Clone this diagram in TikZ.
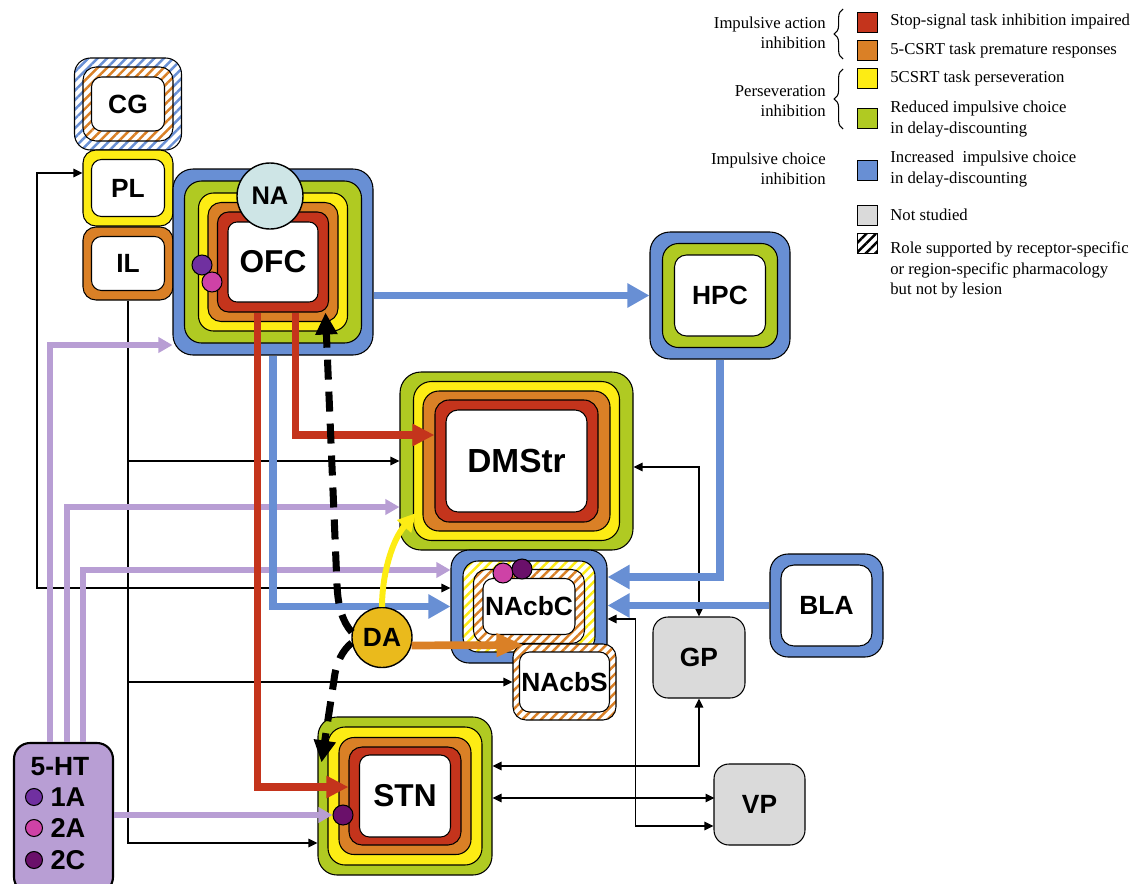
\documentclass[tikz,border=0pt]{standalone}
\usepackage{fontspec}
\setmainfont{Liberation Serif}
\setsansfont{Liberation Sans}
\usepackage{tikz}
\usetikzlibrary{positioning, shapes, arrows.meta, patterns.meta, decorations.pathreplacing, calc}
\definecolor{RingBlue}{RGB}{104, 143, 212}
\definecolor{RingGreen}{RGB}{176, 202, 34}
\definecolor{RingYellow}{RGB}{253, 236, 20}
\definecolor{RingOrange}{RGB}{218, 128, 38}
\definecolor{RingRed}{RGB}{196, 52, 28}
\definecolor{HTLilac}{RGB}{184, 158, 212}
\definecolor{NoStudy}{RGB}{218, 218, 218}
\definecolor{DAGold}{RGB}{234, 186, 28}
\definecolor{NAPale}{RGB}{206, 229, 230}
\definecolor{RecA}{RGB}{112, 48, 160}
\definecolor{RecB}{RGB}{206, 66, 166}
\definecolor{RecC}{RGB}{106, 16, 106}
\newcommand{\px}{0.02cm}

\begin{document}
\begin{tikzpicture}[
    x=0.02cm, y=-0.02cm,
    ring/.style={draw, line width=0.6pt, inner sep=0pt},
    sz/.style 2 args={minimum width=#1*\px, minimum height=#2*\px},
    hatch/.style={preaction={fill=white}, pattern={Lines[angle=45, distance=3.8pt, line width=1.4pt]}, pattern color=#1},
    lbl/.style={font=\sffamily\bfseries\fontsize{#1}{#1}\selectfont},
    dot/.style={circle, draw, line width=0.6pt, inner sep=0pt, minimum size=20*\px},
    keybox/.style={draw, line width=0.5pt, minimum size=20*\px, inner sep=0pt},
    keytxt/.style={anchor=west, align=left, inner sep=0pt, font=\fontsize{9.5}{11.6}\selectfont},
    grp/.style={anchor=east, align=right, inner sep=0pt, font=\fontsize{9.5}{11.6}\selectfont},
    wire/.style={line width=0.7pt, -{Triangle[length=0.18cm, width=0.17cm]}},
    wire2/.style={line width=0.7pt, {Triangle[length=0.18cm, width=0.17cm]}-{Triangle[length=0.18cm, width=0.17cm]}},
    bluearr/.style={draw=RingBlue, line width=4pt, -{Triangle[length=0.44cm, width=0.46cm]}},
    redarr/.style={draw=RingRed, line width=4pt, -{Triangle[length=0.44cm, width=0.42cm]}},
    lilacarr/.style={draw=HTLilac, line width=3.2pt, -{Triangle[length=0.28cm, width=0.3cm]}},
    yelarr/.style={draw=RingYellow, line width=3.4pt, -{Triangle[length=0.36cm, width=0.36cm]}},
    orarr/.style={draw=RingOrange, line width=4.4pt, -{Triangle[length=0.55cm, width=0.44cm]}},
    dasharr/.style={line width=4pt, dash pattern=on 0.4cm off 0.24cm, -{Triangle[length=0.44cm, width=0.42cm]}},
    grpbrace/.style={line width=0.6pt, decorate, decoration={brace, amplitude=5pt}}
  ]
    \useasboundingbox (0,0) rectangle (1136,883);
    \clip (0,0) rectangle (1136,883);

    % Cortex
    \node[ring, sz={107}{92}, hatch=RingBlue, rounded corners=0.32cm] (cg2) at (128,104) {};
    \node[ring, sz={90}{74}, hatch=RingOrange, rounded corners=0.26cm] (cg1) at (128,104) {};
    \node[ring, sz={73}{54}, fill=white, rounded corners=0.2cm, lbl=15] (cg) at (128,104) {CG};
    \node[ring, sz={90}{76}, fill=RingYellow, rounded corners=0.26cm] (pl1) at (128,188) {};
    \node[ring, sz={73}{57}, fill=white, rounded corners=0.2cm, lbl=15] (pl) at (128,188) {PL};
    \node[ring, sz={90}{73}, fill=RingOrange, rounded corners=0.26cm] (il1) at (128,263.5) {};
    \node[ring, sz={73}{54}, fill=white, rounded corners=0.2cm, lbl=15] (il) at (128,263.5) {IL};

    \node[ring, sz={200}{186}, fill=RingBlue, rounded corners=0.4cm] (ofc5) at (273,262) {};
    \node[ring, sz={177}{162}, fill=RingGreen, rounded corners=0.34cm] (ofc4) at (273,262) {};
    \node[ring, sz={149}{138}, fill=RingYellow, rounded corners=0.3cm] (ofc3) at (273,262) {};
    \node[ring, sz={130}{119}, fill=RingOrange, rounded corners=0.26cm] (ofc2) at (273,262) {};
    \node[ring, sz={111}{100}, fill=RingRed, rounded corners=0.22cm] (ofc1) at (273,262) {};
    \node[ring, sz={90}{80}, fill=white, rounded corners=0.18cm, lbl=18] (ofc) at (273,262) {OFC};
    \node[circle, draw, line width=0.8pt, fill=NAPale, minimum size=66*\px, inner sep=0pt, lbl=14.5] (na) at (270,196) {NA};

    \node[ring, sz={140}{127}, fill=RingBlue, rounded corners=0.4cm] (hpc2) at (720,295.5) {};
    \node[ring, sz={115}{104}, fill=RingGreen, rounded corners=0.32cm] (hpc1) at (720,295.5) {};
    \node[ring, sz={91}{81}, fill=white, rounded corners=0.24cm, lbl=15] (hpc) at (720,295.5) {HPC};

    % Striatum
    \node[ring, sz={233}{178}, fill=RingGreen, rounded corners=0.42cm] (dmstr4) at (516.5,461) {};
    \node[ring, sz={206}{159}, fill=RingYellow, rounded corners=0.36cm] (dmstr3) at (516.5,461) {};
    \node[ring, sz={187}{140}, fill=RingOrange, rounded corners=0.32cm] (dmstr2) at (516.5,461) {};
    \node[ring, sz={163}{122}, fill=RingRed, rounded corners=0.28cm] (dmstr1) at (516.5,461) {};
    \node[ring, sz={141}{102}, fill=white, rounded corners=0.24cm, lbl=19] (dmstr) at (516.5,461) {DMStr};

    \node[ring, sz={156}{113}, fill=RingBlue, rounded corners=0.36cm] (nacbc3) at (529,606.5) {};
    \node[ring, sz={132}{91}, hatch=RingYellow, rounded corners=0.3cm] (nacbc2) at (529,606.5) {};
    \node[ring, sz={111}{74}, hatch=RingOrange, rounded corners=0.26cm] (nacbc1) at (529,606.5) {};
    \node[ring, sz={92}{56}, fill=white, rounded corners=0.2cm, lbl=15] (nacbc) at (529,606.5) {NAcbC};
    \node[ring, sz={103}{76}, hatch=RingOrange, rounded corners=0.26cm] (nacbs1) at (564.5,682) {};
    \node[ring, sz={90}{60}, fill=white, rounded corners=0.2cm, lbl=15] (nacbs) at (564.5,682) {NAcbS};

    \node[ring, sz={113}{103}, fill=RingBlue, rounded corners=0.36cm] (bla1) at (826.5,605.5) {};
    \node[ring, sz={91}{81}, fill=white, rounded corners=0.26cm, lbl=15] (bla) at (826.5,605.5) {BLA};

    \node[ring, sz={92}{81}, fill=NoStudy, rounded corners=0.3cm, lbl=15] (gp) at (699,657.5) {GP};
    \node[ring, sz={91}{81}, fill=NoStudy, rounded corners=0.3cm, lbl=15] (vp) at (759.5,804.5) {VP};

    % STN
    \node[ring, sz={174}{158}, fill=RingGreen, rounded corners=0.38cm] (stn4) at (405,796) {};
    \node[ring, sz={154}{138}, fill=RingYellow, rounded corners=0.34cm] (stn3) at (405,796) {};
    \node[ring, sz={132}{117}, fill=RingOrange, rounded corners=0.3cm] (stn2) at (405,796) {};
    \node[ring, sz={112}{98}, fill=RingRed, rounded corners=0.26cm] (stn1) at (405,796) {};
    \node[ring, sz={91}{82}, fill=white, rounded corners=0.2cm, lbl=18] (stn) at (405,796) {STN};

    % 5-HT
    \node[ring, line width=1.2pt, sz={99}{150}, fill=HTLilac, rounded corners=0.32cm] (ht) at (63.5,818) {};
    \node[lbl=15] (htname) at (60,767) {5-HT};
    \node[dot, fill=RecA, minimum size=17*\px] (htd1) at (34,797) {};
    \node[dot, fill=RecB, minimum size=17*\px] (htd2) at (34,828) {};
    \node[dot, fill=RecC, minimum size=17*\px] (htd3) at (34,860) {};
    \node[lbl=15.5] (ht1a) at (68,797) {1A};
    \node[lbl=15.5] (ht2a) at (68,828) {2A};
    \node[lbl=15.5] (ht2c) at (68,860) {2C};

    % Thin connections
    \coordinate (plbus) at (37,588);
    \draw[wire2] ($(pl1.west)+(0,-15)$) -| (plbus) -- (plbus -| nacbc3.west);
    \draw[wire] (il1.south) |- ($(stn4.west)+(0,47)$);
    \draw[wire] (il1.south |- dmstr4.west) -- (dmstr4.west);
    \draw[wire] (il1.south |- nacbs1.west) -- (nacbs1.west);
    \draw[wire2] ($(dmstr4.east)+(0,6)$) -| (gp.north);
    \draw[wire2] ($(nacbc3.east)+(0,12.5)$) -- ++(28,0) |- ($(vp.west)+(0,21.5)$);
    \draw[wire2] ($(stn4.east)+(0,-30)$) -| (gp.south);
    \draw[wire2] ($(stn4.east)+(0,2)$) -- ($(stn4.east)+(222,2)$);

    % Serotonin
    \node[dot, fill=RecC] (stnd) at (343,815) {};
    \draw[lilacarr] ($(ht.north)+(-13.5,0)$) |- ($(ofc5.west)+(0,83)$);
    \draw[lilacarr] ($(ht.north)+(3.5,0)$) |- ($(dmstr4.west)+(0,46)$);
    \draw[lilacarr] ($(ht.north)+(19.5,0)$) |- ($(nacbc3.west)+(0,-36.5)$);
    \draw[lilacarr] (ht.east |- stnd) -- (stnd.west);

    % Blue and red
    \draw[bluearr] (ofc5.east |- hpc2.west) -- (hpc2.west);
    \draw[bluearr] (hpc2.south) |- ($(nacbc3.east)+(0,-29.5)$);
    \draw[bluearr] (bla1.west) -- (bla1.west -| nacbc3.east);
    \draw[bluearr] (ofc5.south) |- (nacbc3.west);
    \draw[redarr] ($(ofc1.south)+(22.5,0)$) |- ($(dmstr1.west)+(0,-26)$);
    \draw[redarr] ($(ofc1.south)+(-15.5,0)$) |- ($(stn1.west)+(0,-9)$);

    % Dopamine
    \node[circle, draw, line width=0.8pt, fill=DAGold, minimum size=60*\px, inner sep=0pt, lbl=15] (da) at (382,637.5) {DA};
    \coordinate (nacbsin) at (524,645);
    \draw[yelarr] (da.north) .. controls (382,575) and (392,540) .. ($(dmstr3.south west)+(3,-28)$);
    \draw[orarr] (da.-15) -- (nacbsin);
    \draw[dasharr] (da.170) .. controls (343,622) and (338,608) .. (337,585) -- ($(ofc1.south)+(52.5,0)$);
    \draw[dasharr] (da.190) .. controls (343,650) and (336,662) .. (334,680) -- ($(stn4.north west)+(4,46)$);

    % Receptor dots
    \node[dot, fill=RecA] (ofcd1) at (202,265) {};
    \node[dot, fill=RecB] (ofcd2) at (212,282) {};
    \node[dot, fill=RecB] (nacd1) at (503,573) {};
    \node[dot, fill=RecC] (nacd2) at (522,569) {};

    % Legend
    \node[keybox, fill=RingRed] (k1) at (867,22) {};
    \node[keybox, fill=RingOrange] (k2) at (867,50) {};
    \node[keybox, fill=RingYellow] (k3) at (867,78) {};
    \node[keybox, fill=RingGreen] (k4) at (867,118) {};
    \node[keybox, fill=RingBlue] (k5) at (867,170) {};
    \node[keybox, fill=NoStudy] (k6) at (867,215) {};
    \node[keybox, hatch=black] (k7) at (867,243) {};
    \node[keytxt] (t1) at (890,22) {Stop-signal task inhibition impaired};
    \node[keytxt] (t2) at (890,50) {5-CSRT task premature responses};
    \node[keytxt] (t3) at (890,78) {5CSRT task perseveration};
    \node[keytxt] (t4) at (890,119) {Reduced impulsive choice\\in delay-discounting};
    \node[keytxt] (t5) at (890,169) {Increased\ \ impulsive choice\\in delay-discounting};
    \node[keytxt] (t6) at (890,215) {Not studied};
    \node[keytxt] (t7) at (890,270) {Role supported by receptor-specific\\or region-specific pharmacology\\but not by lesion};

    \node[grp] (g1) at (826,33) {Impulsive action\\inhibition};
    \node[grp] (g2) at (826,101) {Perseveration\\inhibition};
    \node[grp] (g3) at (826,169) {Impulsive choice\\inhibition};
    \draw[grpbrace] (843,59) -- (843,9);
    \draw[grpbrace] (843,129) -- (843,69);
\end{tikzpicture}
\end{document}
